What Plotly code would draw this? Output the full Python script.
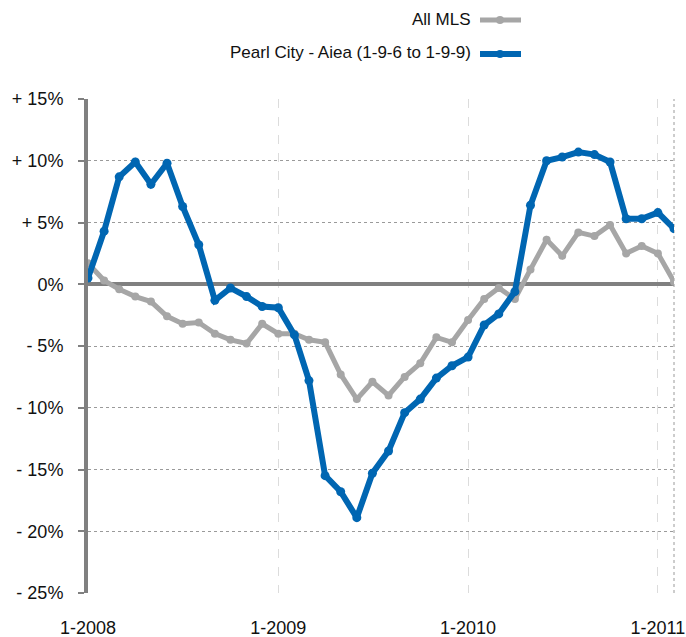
import plotly.graph_objects as go

months = [f"{2008 + i // 12}-{i % 12 + 1:02d}-01" for i in range(38)]

all_mls = [1.7, 0.3, -0.4, -1.0, -1.4, -2.6, -3.2, -3.1, -4.0, -4.5,
           -4.8, -3.2, -4.0, -4.0, -4.5, -4.7, -7.3, -9.3, -7.9, -9.0,
           -7.5, -6.4, -4.3, -4.7, -2.9, -1.2, -0.3, -1.2, 1.2, 3.6,
           2.3, 4.2, 3.9, 4.8, 2.5, 3.1, 2.5, 0.2]

pearl_city = [0.5, 4.3, 8.7, 9.9, 8.1, 9.8, 6.3, 3.2, -1.3, -0.3,
              -1.0, -1.8, -1.9, -4.1, -7.8, -15.5, -16.8, -18.9, -15.3, -13.5,
              -10.4, -9.3, -7.6, -6.6, -5.9, -3.3, -2.4, -0.6, 6.4, 10.0,
              10.3, 10.7, 10.5, 9.9, 5.3, 5.3, 5.8, 4.5]

ytick_vals = [15, 10, 5, 0, -5, -10, -15, -20, -25]
ytick_text = ["+ 15%", "+ 10%", "+ 5%", "0%", "- 5%", "- 10%", "- 15%", "- 20%", "- 25%"]
xtick_vals = ["2008-01-01", "2009-01-01", "2010-01-01", "2011-01-01"]
xtick_text = ["1-2008", "1-2009", "1-2010", "1-2011"]

GRAY = "#a6a6a6"
BLUE = "#0066b2"
FONT = "Liberation Sans, Arial, sans-serif"

W, H = 686, 637
L, R, T, B = 88, 12, 99, 44
PW, PH = W - L - R, H - T - B

fig = go.Figure()
fig.add_trace(go.Scatter(x=months, y=all_mls, mode="lines+markers", name="All MLS",
                         line=dict(color=GRAY, width=5), marker=dict(color=GRAY, size=8)))
fig.add_trace(go.Scatter(x=months, y=pearl_city, mode="lines+markers",
                         name="Pearl City - Aiea (1-9-6 to 1-9-9)",
                         line=dict(color=BLUE, width=6), marker=dict(color=BLUE, size=9)))

fig.update_layout(
    width=W, height=H,
    margin=dict(l=L, r=R, t=T, b=B),
    paper_bgcolor="white", plot_bgcolor="white",
    showlegend=False,
    font=dict(family=FONT, size=18, color="#111"),
    xaxis=dict(type="date", range=["2008-01-01", "2011-02-01"],
               tickvals=xtick_vals, ticktext=xtick_text,
               showgrid=True, gridcolor="#dcdcdc", griddash="dash", gridwidth=1,
               showline=False, zeroline=False, ticks="", ticklabelstandoff=22,
               ticklabeloverflow="allow", automargin=False),
    yaxis=dict(range=[-25, 15], tickvals=ytick_vals, ticktext=ytick_text,
               showgrid=True, gridcolor="#9a9a9a", griddash="dot", gridwidth=1,
               showline=True, linecolor="#808080", linewidth=4,
               zeroline=True, zerolinecolor="#808080", zerolinewidth=4,
               ticks="outside", ticklen=6, tickwidth=2, tickcolor="#808080",
               ticklabelstandoff=11, automargin=False),
)

# right plot border (dotted)
fig.add_shape(type="line", xref="paper", yref="paper", x0=1, x1=1, y0=0, y1=1,
              line=dict(color="#9a9a9a", width=1, dash="dot"), layer="below")

# custom legend (text on the left, symbol on the right); pixel positions in figure coords
def px(x):
    return (x - L) / PW

def py(y):
    return 1 - (y - T) / PH

legend_items = [("All MLS", GRAY, 5, 20), ("Pearl City - Aiea (1-9-6 to 1-9-9)", BLUE, 6, 54)]
for label, color, w, ypx in legend_items:
    fig.add_annotation(xref="paper", yref="paper", x=px(473), y=py(ypx - 1), text=label,
                       showarrow=False, xanchor="right", yanchor="middle",
                       font=dict(family=FONT, size=17, color="#111"))
    fig.add_shape(type="line", xref="paper", yref="paper", x0=px(480), x1=px(521),
                  y0=py(ypx), y1=py(ypx), line=dict(color=color, width=w))
    fig.add_shape(type="circle", xref="paper", yref="paper", x0=px(496), x1=px(504),
                  y0=py(ypx + 4), y1=py(ypx - 4), fillcolor=color, line=dict(color=color, width=0))

fig.write_html("out.html",
               config={"displayModeBar": False},
               post_script="document.body.style.margin='0px';document.body.style.overflow='hidden';")
